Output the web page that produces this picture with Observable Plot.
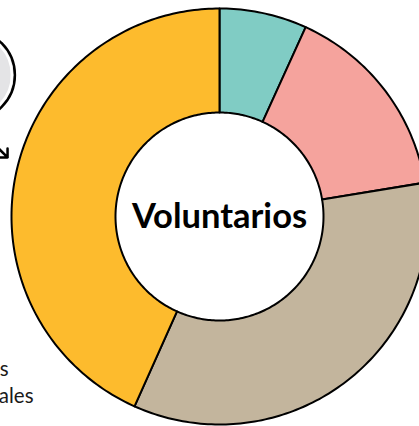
<!DOCTYPE html>
<html>
<head>
<meta charset="utf-8">
<script src="https://cdn.jsdelivr.net/npm/d3@7"></script>
<script src="https://cdn.jsdelivr.net/npm/@observablehq/plot@0.6"></script>
<style>
  html, body { margin: 0; padding: 0; background: #fff; overflow: hidden; }
  svg { overflow: hidden; }
</style>
</head>
<body>
<div id="chart"></div>
<script>
// Slices (clockwise from 12 o'clock)
const categories = ["Grupo 1", "Grupo 2", "Grupo 3", "Grupo 4"];
const values = [6.8, 15.6, 34.3, 43.3];
const colors = ["#80ccc4", "#f5a39d", "#c3b59d", "#fdbb2d"];
const centerLabel = ["Voluntarios"];
// Fragments of neighbouring annotations (cropped at the left edge)
const sideLabels = ["s", "ales"];

const innerRatio = 0.5;
const total = d3.sum(values);
const points = [];
let acc = 0;
categories.forEach((cat, i) => {
  const a0 = acc / total * 2 * Math.PI;
  acc += values[i];
  const a1 = acc / total * 2 * Math.PI;
  const n = Math.max(8, Math.ceil((a1 - a0) / (Math.PI / 180)));
  const ring = [];
  for (let k = 0; k <= n; k++) { const a = a0 + (a1 - a0) * k / n; ring.push({cat, x: Math.sin(a), y: Math.cos(a)}); }
  for (let k = n; k >= 0; k--) { const a = a0 + (a1 - a0) * k / n; ring.push({cat, x: innerRatio * Math.sin(a), y: innerRatio * Math.cos(a)}); }
  ring.push({...ring[0]});
  points.push(...ring);
});

const chart = Plot.plot({
  width: 419,
  height: 426,
  margin: 0,
  style: {fontFamily: "Lato, sans-serif", background: "#fff"},
  x: {domain: [-1, 1], range: [11, 427], axis: null},
  y: {domain: [-1, 1], range: [424, 8], axis: null},
  color: {domain: categories, range: colors},
  marks: [
    // gray annotation circle at upper left (partially cropped)
    Plot.dot([{x: -1.2, y: 0.68}], {x: "x", y: "y", r: 45, fill: "#e4e4e6", stroke: "#000", strokeWidth: 2.5}),
    Plot.dot([{x: -1.2, y: 0.68}], {x: "x", y: "y", r: 42, fill: "none", stroke: "#fff", strokeWidth: 2.5}),
    Plot.arrow([{x1: -1.11, y1: 0.375, x2: -1.019, y2: 0.284}], {x1: "x1", y1: "y1", x2: "x2", y2: "y2", stroke: "#000", strokeWidth: 2.5, headLength: 13, headAngle: 90, bend: 0}),
    Plot.line(points, {x: "x", y: "y", z: "cat", fill: "cat", stroke: "#000", strokeWidth: 2, strokeLinejoin: "round", curve: "linear"}),
    Plot.text(centerLabel, {x: () => 0, y: () => 0, text: d => d, fontSize: 34.5, fontWeight: "bold", fill: "#000", lineAnchor: "middle"}),
    Plot.text(sideLabels, {x: (d, i) => [-1.014, -0.894][i], y: (d, i) => [-0.735, -0.864][i], text: d => d, fontSize: 20.5, fill: "#1a1a1a", textAnchor: "end", lineAnchor: "bottom", dy: 7})
  ]
});
document.getElementById("chart").append(chart);
</script>
</body>
</html>
